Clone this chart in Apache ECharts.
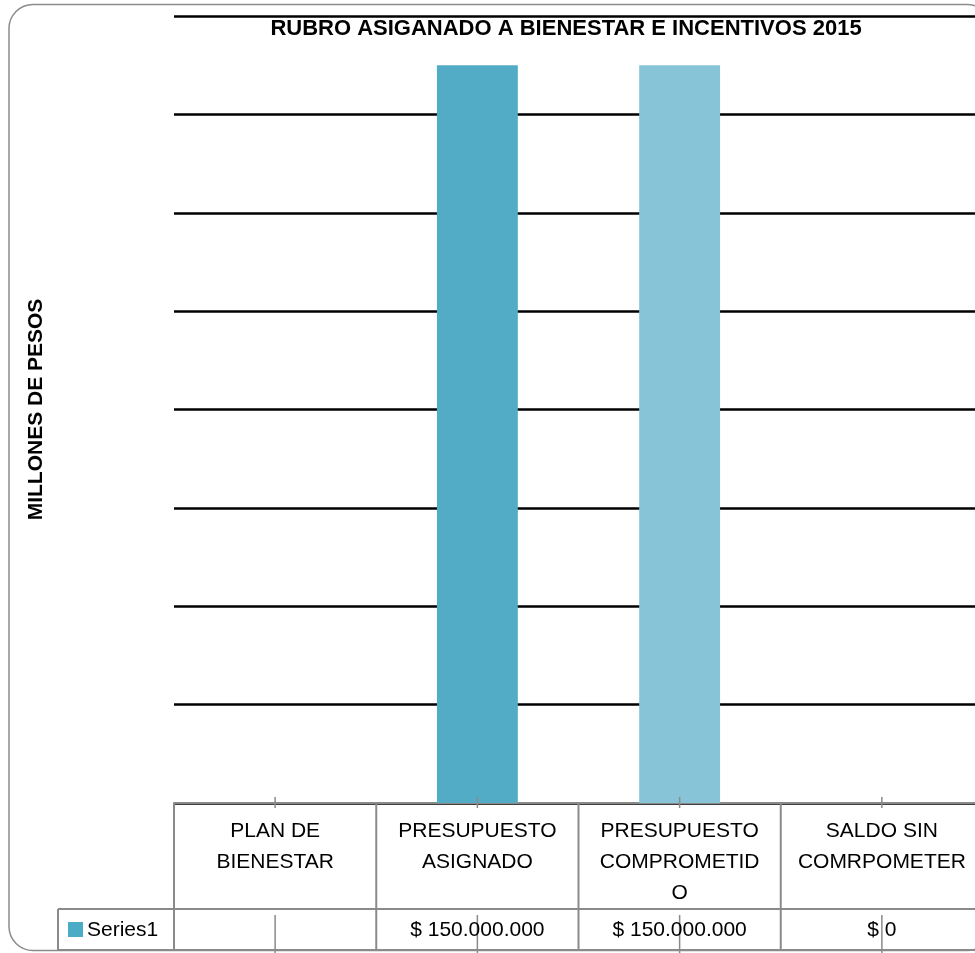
<!DOCTYPE html>
<html>
<head>
<meta charset="utf-8">
<script src="https://cdn.jsdelivr.net/npm/echarts@6/dist/echarts.min.js"></script>
<style>
  html, body { margin: 0; padding: 0; background: #ffffff; }
  #chart { width: 975px; height: 953px; }
</style>
</head>
<body>
<div id="chart"></div>
<script>
// ---- data ----
const chartTitle = 'RUBRO ASIGANADO A BIENESTAR E INCENTIVOS 2015';
const yAxisTitle = 'MILLONES DE PESOS';
const categories = ['PLAN DE BIENESTAR', 'PRESUPUESTO ASIGNADO', 'PRESUPUESTO COMPROMETIDO', 'SALDO SIN COMRPOMETER'];
const categoryLabels = ['PLAN DE\nBIENESTAR', 'PRESUPUESTO\nASIGNADO', 'PRESUPUESTO\nCOMPROMETID\nO', 'SALDO SIN\nCOMRPOMETER'];
const seriesName = 'Series1';
const seriesValues = [null, 150000000, 150000000, 0];
const yMin = 0;
const yMax = 160000000;
const yStep = 20000000;

// ---- styles ----
const pointColors = ['#52ACC5', '#52ACC5', '#87C4D8', '#52ACC5'];
const legendColor = '#4BACC6';
const tableLine = '#8a8a8a';
const FONT = '"Liberation Sans", Arial, sans-serif';

// ---- layout (plot area runs past the right edge of the page) ----
const GRID = { left: 174, right: -8, top: 16, bottom: 150 };
const headerBottom = 909;
const rowBottom = 950;
const rowLabelLeft = 58;

function money(v) {
  if (v === null || v === undefined) return '';
  return '$ ' + String(v).replace(/\B(?=(\d{3})+(?!\d))/g, '.');
}

const chart = echarts.init(document.getElementById('chart'), null, { renderer: 'canvas' });

chart.setOption({
  animation: false,
  backgroundColor: '#ffffff',
  title: {
    text: chartTitle,
    left: 561,
    top: 13,
    textAlign: 'center',
    textStyle: { fontFamily: FONT, fontSize: 22, fontWeight: 'bold', color: '#000000' }
  },
  grid: {
    left: GRID.left, right: GRID.right, top: GRID.top, bottom: GRID.bottom,
    containLabel: false, outerBoundsMode: 'none'
  },
  xAxis: {
    type: 'category',
    data: categories,
    boundaryGap: true,
    axisLine: { show: true, lineStyle: { color: tableLine, width: 2 } },
    axisTick: { show: false },
    axisLabel: {
      interval: 0,
      margin: 13,
      fontFamily: FONT,
      fontSize: 21,
      lineHeight: 31,
      color: '#000000',
      align: 'center',
      hideOverlap: false,
      formatter: (v, i) => categoryLabels[i]
    },
    splitLine: { show: false }
  },
  yAxis: {
    type: 'value',
    min: yMin,
    max: yMax,
    interval: yStep,
    name: yAxisTitle,
    nameLocation: 'middle',
    nameRotate: 90,
    nameGap: 127,
    nameTextStyle: { fontFamily: FONT, fontSize: 21, fontWeight: 'bold', color: '#000000' },
    axisLine: { show: false },
    axisTick: { show: false },
    axisLabel: { show: false },
    splitLine: { show: true, lineStyle: { color: '#000000', width: 2.5 } }
  },
  series: [{
    name: seriesName,
    type: 'bar',
    barWidth: '40%',
    data: seriesValues.map((v, i) => ({ value: v, itemStyle: { color: pointColors[i] } })),
    z: 3
  }]
});

// ---- frame and data table, positioned from the category axis ----
function buildTable() {
  const x0 = chart.convertToPixel({ xAxisIndex: 0 }, 0);
  const x1 = chart.convertToPixel({ xAxisIndex: 0 }, 1);
  const band = x1 - x0;
  const axisY = chart.convertToPixel({ yAxisIndex: 0 }, yMin);
  const g = [];
  const line = (xa, ya, xb, yb, w) => ({
    type: 'line', silent: true, z: 10,
    shape: { x1: xa, y1: ya, x2: xb, y2: yb },
    style: { stroke: tableLine, lineWidth: w || 2 }
  });

  // rounded chart frame
  g.push({
    type: 'rect', silent: true, z: 0,
    shape: { x: 9, y: 4.5, width: 982, height: 946, r: 24 },
    style: { fill: null, stroke: '#8c8c8c', lineWidth: 1.5 }
  });

  categories.forEach((c, i) => {
    const cx = chart.convertToPixel({ xAxisIndex: 0 }, i);
    const left = cx - band / 2;
    // cell borders
    g.push(line(left, axisY, left, rowBottom));
    // tick marks at the category centre
    g.push(line(cx, axisY - 6, cx, axisY + 5, 1.5));
    g.push(line(cx, headerBottom + 6, cx, 953, 1.5));
    // value cell
    g.push({
      type: 'text', silent: true, z: 11,
      style: {
        x: cx, y: (headerBottom + rowBottom) / 2 + 1,
        text: money(seriesValues[i]),
        align: 'center', verticalAlign: 'middle',
        font: '21px ' + FONT, fill: '#000000'
      }
    });
  });
  const right = x0 + band * (categories.length - 0.5);
  g.push(line(right, axisY, right, rowBottom));
  g.push(line(rowLabelLeft, headerBottom, right, headerBottom));
  g.push(line(rowLabelLeft, rowBottom, right, rowBottom));
  g.push(line(rowLabelLeft, headerBottom, rowLabelLeft, rowBottom));

  // legend key and row label
  g.push({
    type: 'rect', silent: true, z: 11,
    shape: { x: 68, y: 922, width: 15, height: 15 },
    style: { fill: legendColor }
  });
  g.push({
    type: 'text', silent: true, z: 11,
    style: {
      x: 87, y: (headerBottom + rowBottom) / 2 + 1,
      text: seriesName, align: 'left', verticalAlign: 'middle',
      font: '21px ' + FONT, fill: '#000000'
    }
  });
  chart.setOption({ graphic: { elements: g } });
}
buildTable();
</script>
</body>
</html>
